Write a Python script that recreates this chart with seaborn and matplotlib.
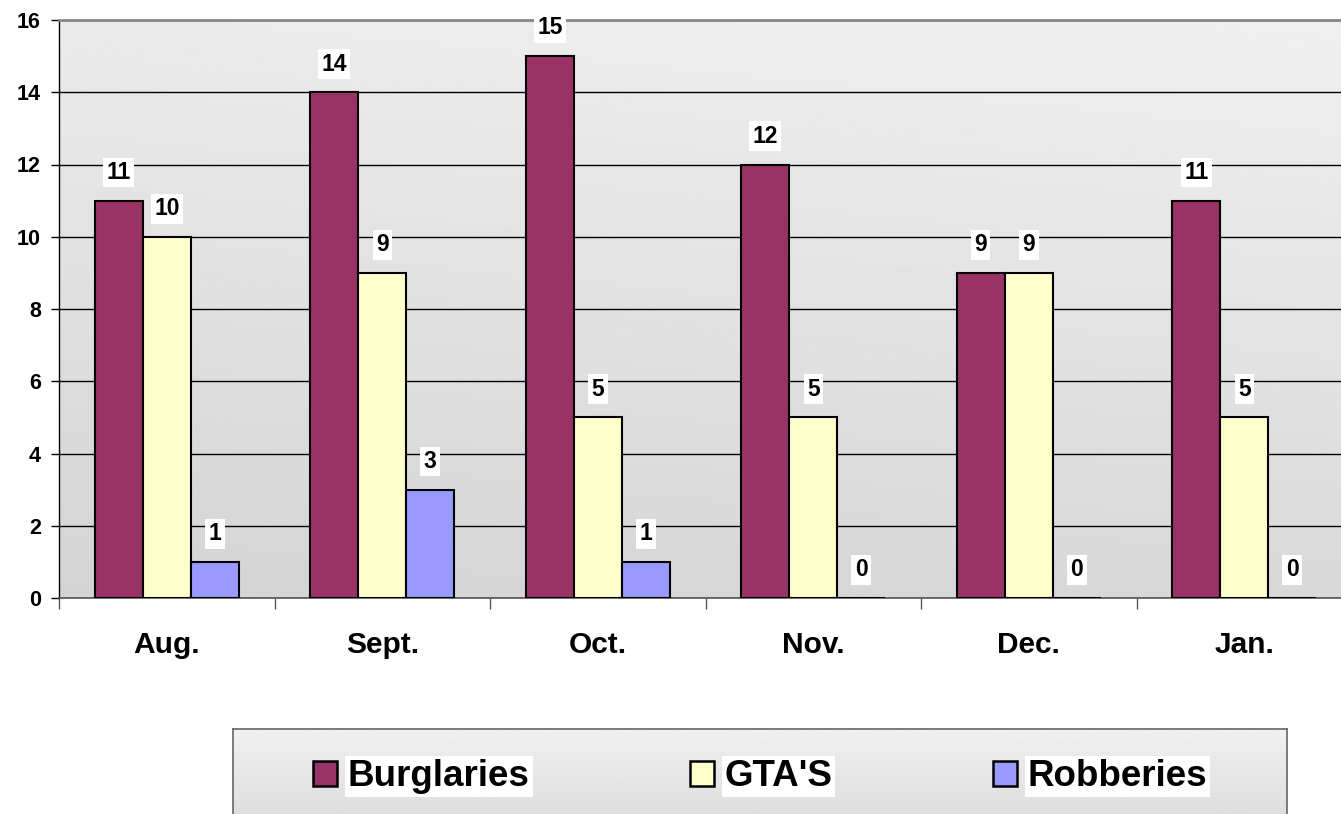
import numpy as np
import pandas as pd
import matplotlib
matplotlib.use("Agg")
import matplotlib.pyplot as plt
import seaborn as sns

# --- Data
months = ["Aug.", "Sept.", "Oct.", "Nov.", "Dec.", "Jan."]
burglaries = [11, 14, 15, 12, 9, 11]
gtas = [10, 9, 5, 5, 9, 5]
robberies = [1, 3, 1, 0, 0, 0]
series = ["Burglaries", "GTA'S", "Robberies"]
colors = ["#993366", "#FFFFCC", "#9999FF"]

df = pd.DataFrame({"month": months * 3,
                   "crime": [series[0]] * 6 + [series[1]] * 6 + [series[2]] * 6,
                   "count": burglaries + gtas + robberies})

sns.set_style("white")
plt.rcParams["font.family"] = ["Liberation Sans", "DejaVu Sans"]
plt.rcParams["font.weight"] = "bold"
plt.rcParams["text.color"] = "black"
plt.rcParams["xtick.color"] = "black"
plt.rcParams["ytick.color"] = "black"
plt.rcParams["xtick.labelcolor"] = "black"
plt.rcParams["ytick.labelcolor"] = "black"

fig = plt.figure(figsize=(13.41, 8.14), dpi=100)
ax = fig.add_axes([59 / 1341, 1 - 598 / 814, (1352 - 59) / 1341, (598 - 20) / 814])

# gradient background for the plot area
grad = np.linspace(0, 1, 256).reshape(-1, 1)
xs = np.linspace(0, 1, 64).reshape(1, -1)
g = 0.94 - 0.09 * grad - 0.02 * (1 - xs)
ax.imshow(g, cmap="gray", vmin=0, vmax=1, extent=[0, 1, 0, 1], origin="upper",
          transform=ax.transAxes, aspect="auto", zorder=0)

sns.barplot(data=df, x="month", y="count", hue="crime", palette=colors,
            width=0.668, edgecolor="black", linewidth=1.5, saturation=1,
            ax=ax, legend=False, zorder=3)

ax.set_xlim(-0.5, 5.5)
ax.set_ylim(0, 16)
ax.set_yticks(range(0, 17, 2))
ax.grid(axis="y", color="black", linewidth=1, zorder=1)
ax.set_axisbelow(True)
ax.set_xlabel("")
ax.set_ylabel("")

ax.spines["right"].set_visible(False)
ax.spines["top"].set_color("#888888")
ax.spines["top"].set_linewidth(2)
ax.spines["left"].set_color("black")
ax.spines["left"].set_linewidth(1)
ax.spines["bottom"].set_color("#555555")
ax.spines["bottom"].set_linewidth(1.2)

ax.tick_params(axis="y", length=6, width=1, color="black", pad=7, labelsize=15.5, left=True)
ax.tick_params(axis="x", which="major", length=0, pad=24, labelsize=21.5)
ax.set_xticks(np.arange(-0.5, 6, 1), minor=True)
ax.tick_params(axis="x", which="minor", length=8, width=1, color="#555555", bottom=True)
for lab in ax.get_xticklabels() + ax.get_yticklabels():
    lab.set_fontweight("bold")
    lab.set_color("black")

# value labels
offsets = [-0.223, 0, 0.223]
for si, vals in enumerate([burglaries, gtas, robberies]):
    for i, v in enumerate(vals):
        ax.text(i + offsets[si], v + 0.78, str(v), ha="center", va="center",
                fontsize=16.5, fontweight="bold", color="black", zorder=5,
                bbox=dict(facecolor="white", edgecolor="none", boxstyle="square,pad=0.15"))

# legend box with gradient
lax = fig.add_axes([233 / 1341, -0.05, (1287 - 233) / 1341, 0.05 + 1 - 729 / 814])
lg = np.linspace(0.94, 0.84, 256).reshape(-1, 1)
lax.imshow(lg, cmap="gray", vmin=0, vmax=1, extent=[0, 1, 0, 1], origin="upper",
           transform=lax.transAxes, aspect="auto")
lax.set_xticks([])
lax.set_yticks([])
for sp in lax.spines.values():
    sp.set_color("#666666")
    sp.set_linewidth(1.2)

handles = [plt.Rectangle((0, 0), 1, 1, facecolor=c, edgecolor="black", linewidth=1.8) for c in colors]
leg = lax.legend(handles, series, loc="center", bbox_to_anchor=(0.5, 0.62),
                 ncol=3, frameon=False, prop={"size": 26.5, "weight": "bold"},
                 handlelength=0.65, handleheight=0.65, handletextpad=0.3, columnspacing=4.35)
for t in leg.get_texts():
    t.set_color("black")
    t.set_bbox(dict(facecolor="white", edgecolor="none", boxstyle="square,pad=0.08"))

fig.savefig("out.png", dpi=100)
